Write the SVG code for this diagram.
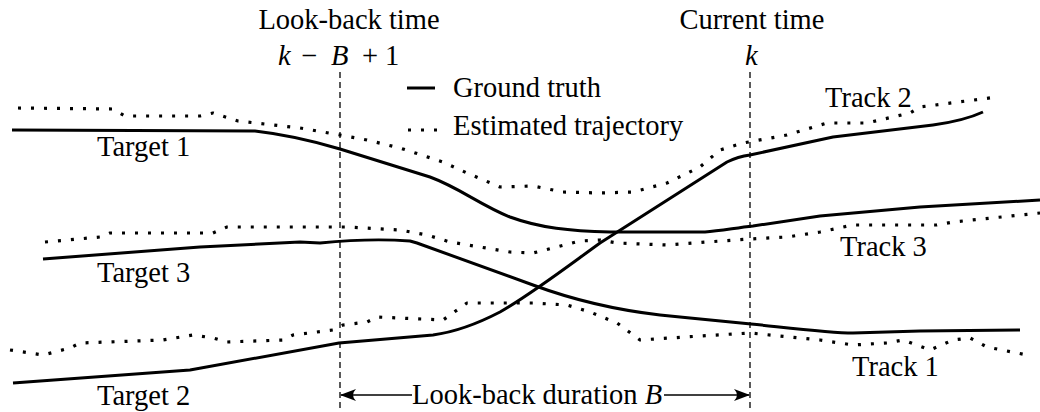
<svg xmlns="http://www.w3.org/2000/svg" width="1040" height="412" viewBox="0 0 1040 412">
<style>
text{font-family:"Liberation Serif","Times New Roman",serif;font-size:28.5px;fill:#000}
.it{font-style:italic}
.gt{fill:none;stroke:#000;stroke-width:3;stroke-linejoin:round;stroke-linecap:butt}
.est{fill:none;stroke:#000;stroke-width:3.2;stroke-dasharray:3 10;stroke-linejoin:round}
.vline{stroke:#000;stroke-width:1.3;stroke-dasharray:6 4;fill:none}
.arr{stroke:#000;stroke-width:1.5;fill:none}
</style>
<defs>
<marker id="ah" viewBox="0 0 16 12" refX="15" refY="6" markerWidth="16" markerHeight="12" markerUnits="userSpaceOnUse" orient="auto-start-reverse">
<path d="M0,0 Q6,6 0,12 L16,6 Z" fill="#000"/>
</marker>
</defs>
<rect width="1040" height="412" fill="#fff"/>
<g id="time-markers">
<line class="vline" x1="340" y1="72" x2="340" y2="412"/>
<line class="vline" x1="750" y1="72" x2="750" y2="412"/>
<text x="349" y="29" text-anchor="middle">Look-back time</text>
<text y="65"><tspan class="it" x="278">k</tspan><tspan x="301">−</tspan><tspan class="it" x="331">B</tspan><tspan x="362">+</tspan><tspan x="385">1</tspan></text>
<text x="752" y="29" text-anchor="middle">Current time</text>
<text class="it" x="745" y="65">k</text>
</g>
<g id="legend">
<line class="gt" x1="407" y1="88" x2="435" y2="88"/>
<text x="453" y="97">Ground truth</text>
<line class="est" x1="408" y1="130" x2="440" y2="130"/>
<text x="453" y="135">Estimated trajectory</text>
</g>
<g id="ground-truth">
<path id="target1" class="gt" d="M12,130 L255,131 C290,135 320,143 340,149 L430,177 C460,188 480,205 510,217 C540,228 570,231 610,232 L705,232 C720,231 735,228 753,226 L820,216 L920,207 L1040,200"/>
<path id="target2" class="gt" d="M13,383 L190,370 L339,343 L433,335 C455,332 475,325 500,312 C530,295 560,272 600,243 L727,162 C735,158 742,156 750,155 L833,137 L933,125 C955,122 970,118 983,112"/>
<path id="target3" class="gt" d="M43,259 L200,247 L300,242 L320,243 C340,241 370,238 410,241 L417,243 L533,285 C560,295 600,308 660,315 L690,318 L751,324 C790,328 830,333 853,333 L920,331 L1020,330"/>
</g>
<g id="estimates">
<path id="track2" class="est" d="M18,108 L113,109 L125,116 L200,116 L213,113 L238,121 L300,128 L340,135 L367,140 L400,148 L443,162 L467,173 L500,187 L533,186 L563,192 L600,193 L633,192 L667,183 L700,167 L720,150 L743,143 L787,135 L827,123 L867,123 L910,113 L920,107 L997,97"/>
<path id="track3" class="est" d="M45,242 L100,237 L110,233 L213,233 L227,227 L347,227 L400,230 L427,235 L450,242 L510,252 L533,253 L553,248 L580,241 L600,240 L617,243 L667,245 L707,242 L750,239 L787,237 L820,232 L853,225 L937,225 L953,222 L1040,213"/>
<path id="track1" class="est" d="M10,350 L43,355 L70,348 L80,343 L163,340 L193,335 L213,338 L227,342 L283,340 L293,335 L333,330 L343,325 L367,322 L377,317 L443,320 L467,303 L533,303 L567,305 L590,312 L617,323 L640,340 L700,336 L750,333 L820,340 L853,345 L887,343 L903,340 L930,350 L953,340 L970,338 L987,347 L1027,355"/>
</g>
<g id="labels">
<text x="97" y="156">Target 1</text>
<text x="97" y="282">Target 3</text>
<text x="97" y="405">Target 2</text>
<text x="825" y="107">Track 2</text>
<text x="840" y="256">Track 3</text>
<text x="852" y="376">Track 1</text>
</g>
<g id="connectors">
<line class="arr" x1="412" y1="395" x2="341" y2="395" marker-end="url(#ah)"/>
<line class="arr" x1="664" y1="395" x2="749" y2="395" marker-end="url(#ah)"/>
<text x="412" y="404">Look-back duration <tspan class="it">B</tspan></text>
</g>
</svg>
